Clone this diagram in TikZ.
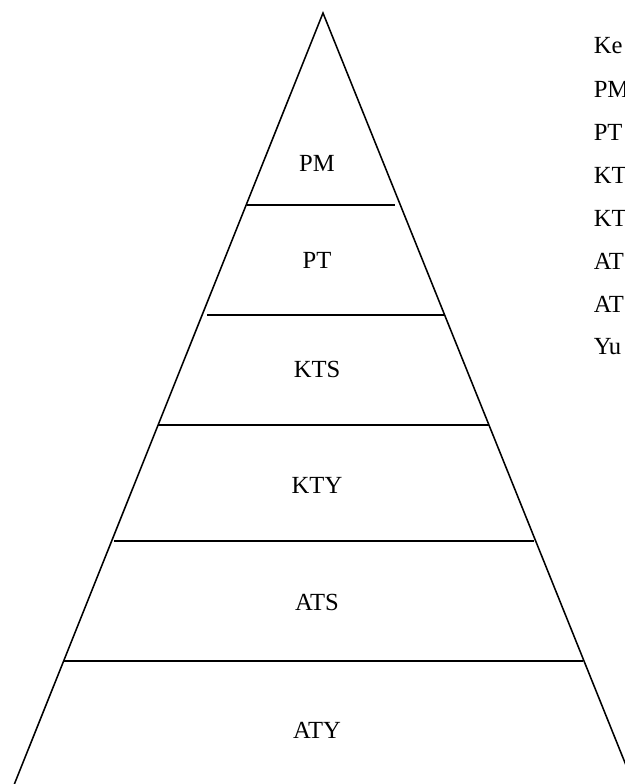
\documentclass[tikz,border=0pt]{standalone}
\usepackage{fontspec}
\setmainfont{Liberation Serif}

\tikzset{
  level/.style={font=\fontsize{17.5}{21}\selectfont, inner sep=0pt},
  legend/.style={font=\fontsize{17.5}{21}\selectfont, inner sep=0pt, anchor=west}
}

\begin{document}
\begin{tikzpicture}[x=0.025cm, y=-0.025cm, line width=1.1pt]
    \useasboundingbox (0,0) rectangle (625,784);
    \clip (0,0) rectangle (625,784);

    % sides of the pyramid
    \coordinate (top) at (323,13);
    \draw (8,800) -- (top) -- (640,800);

    % dividing lines
    \draw (247,205) -- (395,205);
    \draw (207,315) -- (445,315);
    \draw (158,425) -- (489,425);
    \draw (114,541) -- (534,541);
    \draw (64,661) -- (583,661);

    % levels
    \node[level] (pm)  at (317,163) {PM};
    \node[level] (pt)  at (317,260) {PT};
    \node[level] (kts) at (317,369) {KTS};
    \node[level] (kty) at (317,485) {KTY};
    \node[level] (ats) at (317,602) {ATS};
    \node[level] (aty) at (317,730) {ATY};

    % legend on the right
    \node[legend] (ke)  at (593,46)  {Ke};
    \node[legend] (lpm) at (593,89)  {PM};
    \node[legend] (lpt) at (593,132) {PT};
    \node[legend] (lks) at (593,175) {KT};
    \node[legend] (lky) at (593,218) {KT};
    \node[legend] (las) at (593,261) {AT};
    \node[legend] (lay) at (593,304) {AT};
    \node[legend] (yu)  at (593,347) {Yu};
\end{tikzpicture}
\end{document}
